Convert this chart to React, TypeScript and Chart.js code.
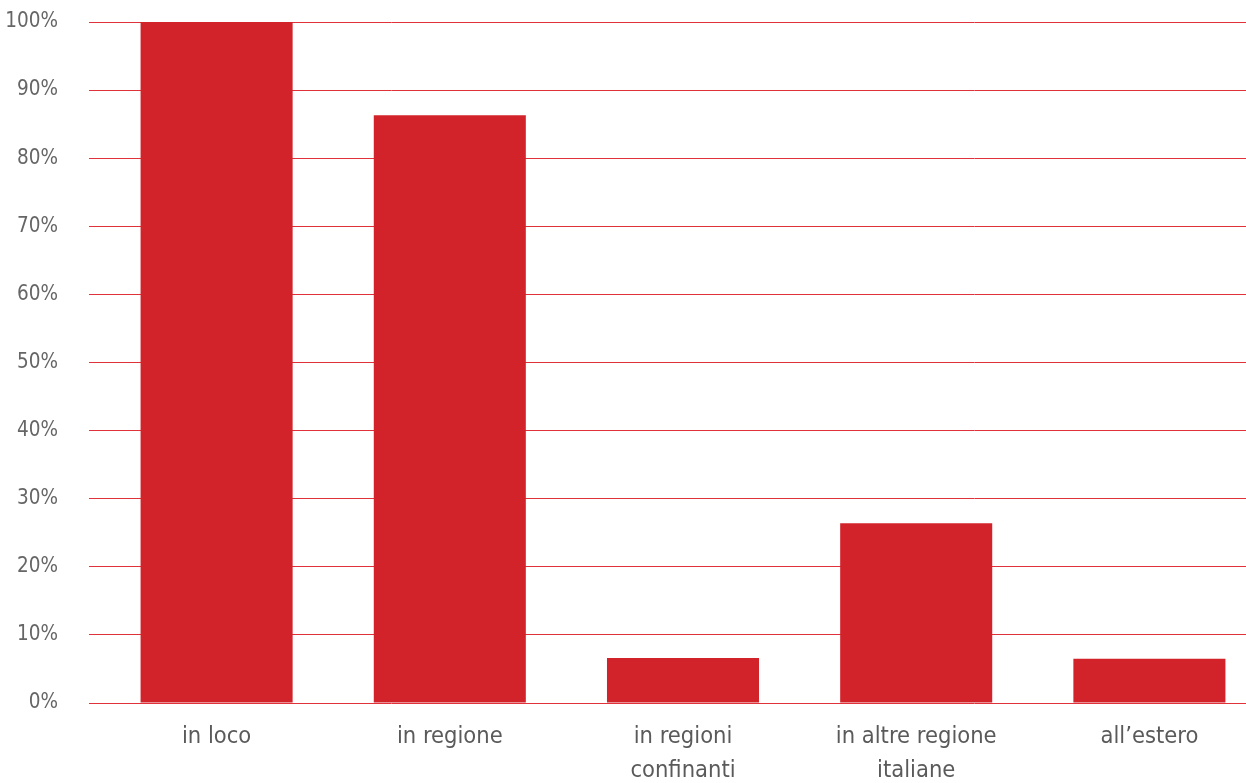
import React, { useEffect, useRef } from "react";
import { Chart, registerables } from "chart.js";

Chart.register(...registerables);

const categories: (string | string[])[] = [
  "in loco",
  "in regione",
  ["in regioni", "confinanti"],
  ["in altre regione", "italiane"],
  "all’estero",
];
const values: number[] = [100, 86.3, 6.6, 26.4, 6.5];
const yTicks: number[] = [0, 10, 20, 30, 40, 50, 60, 70, 80, 90, 100];

const FONT = "'Liberation Sans Narrow', 'DejaVu Sans Condensed', 'Liberation Sans', sans-serif";

export default function App() {
  const ref = useRef<HTMLCanvasElement | null>(null);
  useEffect(() => {
    if (!ref.current) return;
    const chart = new Chart(ref.current, {
      type: "bar",
      data: {
        labels: categories,
        datasets: [
          {
            data: values,
            backgroundColor: "#d2232a",
            borderWidth: 0,
            categoryPercentage: 1,
            barPercentage: 0.652,
          },
        ],
      },
      options: {
        animation: false,
        responsive: true,
        maintainAspectRatio: false,
        layout: { padding: { top: 22, left: 0, right: 0, bottom: 0 } },
        plugins: { legend: { display: false }, tooltip: { enabled: false } },
        scales: {
          x: {
            grid: { display: false },
            border: { display: false },
            ticks: {
              color: "#5a5a5a",
              font: { family: FONT, size: 23.5, lineHeight: 1.45 },
              padding: 9,
              maxRotation: 0,
              autoSkip: false,
            },
            afterFit: (scale: any) => {
              scale.height = 80;
              scale.paddingTop = 0;
              scale.paddingBottom = 0;
            },
          },
          y: {
            min: 0,
            max: 100,
            afterBuildTicks: (scale: any) => {
              scale.ticks = yTicks.map((v) => ({ value: v }));
            },
            grid: {
              color: "#e0323a",
              lineWidth: 1,
              drawTicks: true,
              tickLength: 11,
              tickColor: "#e0323a",
            },
            border: { display: false },
            ticks: {
              color: "#666666",
              font: { family: FONT, size: 20.5 },
              padding: 31,
              callback: (v: any) => `${v}%`,
            },
            afterFit: (scale: any) => {
              scale.width = 100;
              scale.paddingTop = 0;
              scale.paddingBottom = 0;
            },
          },
        },
      },
    });
    return () => chart.destroy();
  }, []);
  return (
    <div
      style={{
        position: "fixed",
        left: 0,
        top: 0,
        width: 1246,
        height: 783,
        overflow: "hidden",
        background: "#fff",
      }}
    >
      <div style={{ position: "absolute", left: 0, top: 0, width: 1266, height: 783 }}>
        <canvas ref={ref} />
      </div>
    </div>
  );
}
